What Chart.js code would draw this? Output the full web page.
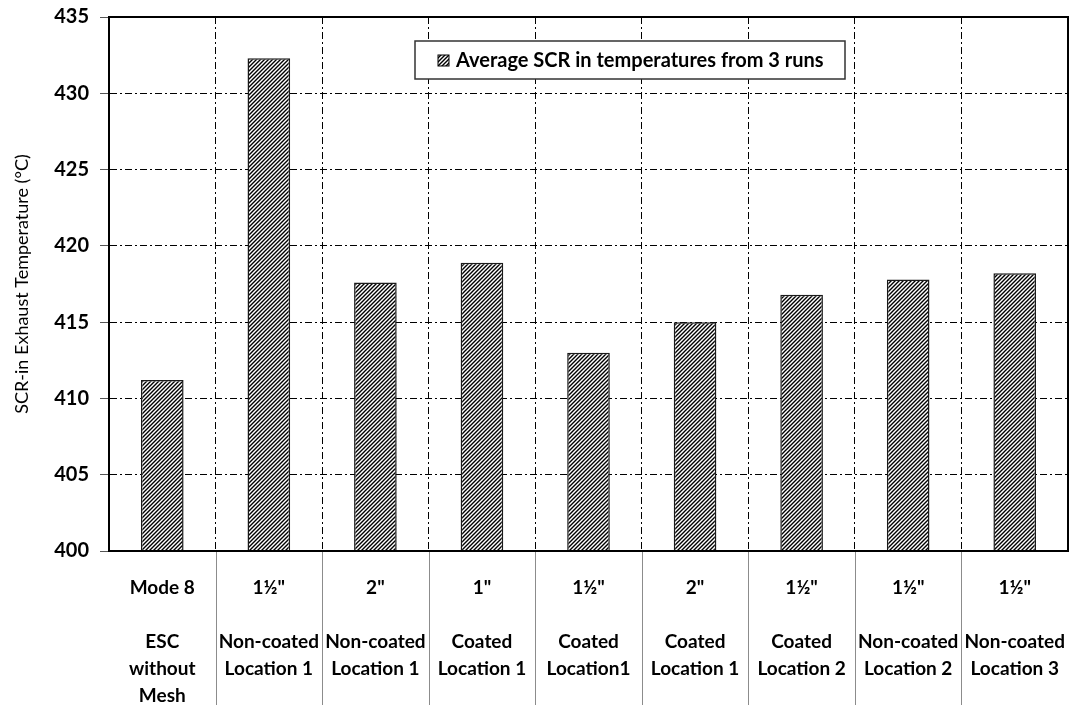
<!DOCTYPE html>
<html lang="en">
<head>
<meta charset="UTF-8"/>
<title>SCR-in Exhaust Temperature</title>
<script src="https://cdn.jsdelivr.net/npm/chart.js"></script>
<style>
  html, body { margin: 0; padding: 0; background: #fff; }
  #wrap { width: 1073px; height: 709px; }
</style>
</head>
<body>
<div id="wrap"><canvas id="chart"></canvas></div>
<script>
  // data
  const categories = [
    ['Mode 8', '', 'ESC', 'without', 'Mesh'],
    ['1½"', '', 'Non-coated', 'Location 1'],
    ['2"', '', 'Non-coated', 'Location 1'],
    ['1"', '', 'Coated', 'Location 1'],
    ['1½"', '', 'Coated', 'Location1'],
    ['2"', '', 'Coated', 'Location 1'],
    ['1½"', '', 'Coated', 'Location 2'],
    ['1½"', '', 'Non-coated', 'Location 2'],
    ['1½"', '', 'Non-coated', 'Location 3']
  ];
  const avgTemp = [411.2, 432.3, 417.6, 418.9, 413.0, 415.0, 416.8, 417.8, 418.2];
  const seriesLabel = 'Average SCR in temperatures from 3 runs';
  const yTitle = 'SCR-in Exhaust Temperature (°C)';
  const yMin = 400, yMax = 435, yStep = 5;

  const FONT = 'Lato';
  const dashDot = [7, 3, 2, 3];

  function hatch() {
    const c = document.createElement('canvas');
    c.width = 4; c.height = 4;
    const g = c.getContext('2d');
    g.fillStyle = '#fff';
    g.fillRect(0, 0, 4, 4);
    g.strokeStyle = '#000';
    g.lineWidth = 1.4;
    g.beginPath();
    g.moveTo(-1, 5); g.lineTo(5, -1);
    g.moveTo(-1, 1); g.lineTo(1, -1);
    g.moveTo(3, 5); g.lineTo(5, 3);
    g.stroke();
    return g.createPattern(c, 'repeat');
  }
  const hatchFill = hatch();

  // frame, category separators below the axis, legend box
  const extras = {
    id: 'extras',
    afterDraw(chart) {
      const ctx = chart.ctx, a = chart.chartArea, x = chart.scales.x;
      ctx.save();
      // separators in the label area
      ctx.strokeStyle = '#8c8c8c';
      ctx.lineWidth = 1;
      const half = (x.getPixelForValue(1) - x.getPixelForValue(0)) / 2;
      for (let i = 1; i < categories.length; i++) {
        const px = Math.round(x.getPixelForValue(i) - half) + 0.5;
        ctx.beginPath();
        ctx.moveTo(px, a.bottom);
        ctx.lineTo(px, chart.height - 4);
        ctx.stroke();
      }
      // frame
      ctx.strokeStyle = '#000';
      ctx.lineWidth = 2;
      ctx.strokeRect(a.left, a.top, a.right - a.left, a.bottom - a.top);

      // legend
      const bx = 415, by = 41, bw = 430, bh = 38;
      ctx.fillStyle = '#fff';
      ctx.fillRect(bx, by, bw, bh);
      ctx.strokeStyle = '#333';
      ctx.lineWidth = 1.5;
      ctx.strokeRect(bx, by, bw, bh);
      ctx.fillStyle = hatchFill;
      ctx.fillRect(bx + 23, by + 14, 11, 11);
      ctx.lineWidth = 1;
      ctx.strokeStyle = '#000';
      ctx.strokeRect(bx + 23, by + 14, 11, 11);
      ctx.fillStyle = '#000';
      ctx.font = 'bold 20px ' + FONT;
      ctx.textBaseline = 'middle';
      ctx.fillText(chart.data.datasets[0].label, bx + 41, by + bh / 2 + 1);
      ctx.restore();
    }
  };

  new Chart(document.getElementById('chart'), {
    type: 'bar',
    data: {
      labels: categories,
      datasets: [{
        label: seriesLabel,
        data: avgTemp,
        backgroundColor: hatchFill,
        borderColor: '#1a1a1a',
        borderWidth: 1.5,
        borderSkipped: 'bottom',
        barPercentage: 0.4,
        categoryPercentage: 1
      }]
    },
    options: {
      responsive: true,
      maintainAspectRatio: false,
      animation: false,
      layout: { padding: { top: 17, right: 5, left: 0, bottom: 0 } },
      plugins: { legend: { display: false }, tooltip: { enabled: false } },
      scales: {
        x: {
          grid: { offset: true, color: '#000', lineWidth: 1, drawTicks: false },
          border: { color: '#000', width: 2, dash: dashDot },
          ticks: {
            color: '#000', autoSkip: false, maxRotation: 0, padding: 23,
            font: { family: FONT, size: 19, weight: 'bold', lineHeight: 1.42 }
          },
          afterFit(s) {
            s.height = 158;
            s.paddingLeft = 0; s.paddingRight = 0;
          }
        },
        y: {
          min: yMin, max: yMax,
          grid: { color: '#000', lineWidth: 1, tickLength: 9, tickColor: '#555' },
          border: { color: '#000', width: 2, dash: dashDot },
          ticks: {
            stepSize: yStep, color: '#000', padding: 11,
            font: { family: FONT, size: 20, weight: 'bold' }
          },
          title: {
            display: true, text: yTitle, color: '#000',
            font: { family: FONT, size: 18 }, padding: { top: 11, bottom: 0 }
          },
          afterFit(s) {
            s.width = 109;
            s.paddingTop = 0; s.paddingBottom = 0;
          }
        }
      }
    },
    plugins: [extras]
  });
</script>
</body>
</html>
